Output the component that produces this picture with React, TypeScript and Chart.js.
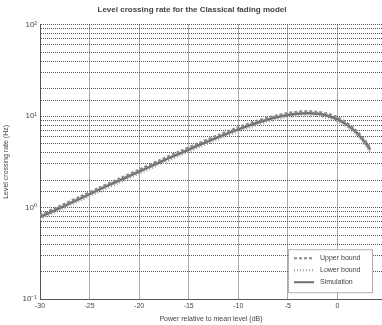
import React, { useEffect, useRef } from "react";
import { Chart, registerables } from "chart.js";

Chart.register(...registerables);

const titleText = "Level crossing rate for the Classical fading model";
const xAxisTitle = "Power relative to mean level (dB)";
const yAxisTitle = "Level crossing rate (Hz)";

const powerDb = [-30, -28, -26, -24, -22, -20, -18, -16, -14, -12, -10, -9, -8, -7, -6, -5, -4, -3, -2, -1, 0, 1, 2, 3, 3.3];
const upperBound = [0.83, 1.04, 1.31, 1.65, 2.07, 2.6, 3.26, 4.06, 5.04, 6.2, 7.52, 8.22, 8.93, 9.62, 10.24, 10.77, 11.13, 11.27, 11.1, 10.58, 9.66, 8.37, 6.78, 5.05, 4.51];
const lowerBound = [0.75, 0.94, 1.19, 1.5, 1.88, 2.36, 2.95, 3.68, 4.57, 5.62, 6.82, 7.45, 8.1, 8.72, 9.29, 9.76, 10.09, 10.22, 10.07, 9.6, 8.77, 7.59, 6.15, 4.58, 4.09];
const simulation = [0.79, 0.99, 1.25, 1.58, 1.98, 2.48, 3.11, 3.87, 4.81, 5.91, 7.17, 7.84, 8.52, 9.17, 9.77, 10.27, 10.62, 10.75, 10.59, 10.1, 9.22, 7.98, 6.47, 4.82, 4.3];

const xTicks = [-30, -25, -20, -15, -10, -5, 0];
const yDecadeLabels: Record<string, string> = { "0.1": "10⁻¹", "1": "10⁰", "10": "10¹", "100": "10²" };

const seriesNames = ["Upper bound", "Lower bound", "Simulation"];
const seriesColors = ["#8a8a8a", "#9a9a9a", "#707070"];
const seriesDash = [[3, 2], [1, 2], []];

const FONT = "'Liberation Sans', Arial, sans-serif";

const legendPlugin = {
  id: "insideLegend",
  afterDraw(chart: any) {
    const { ctx, chartArea } = chart;
    const w = 84;
    const h = 43;
    const x = chartArea.right - w - 10;
    const y = chartArea.bottom - h - 7;
    ctx.save();
    ctx.fillStyle = "#ffffff";
    ctx.fillRect(x, y, w, h);
    ctx.strokeStyle = "#666";
    ctx.lineWidth = 1;
    ctx.setLineDash([1, 1]);
    ctx.strokeRect(x + 0.5, y + 0.5, w, h);
    ctx.font = `7px ${FONT}`;
    ctx.textBaseline = "middle";
    seriesNames.forEach((name, i) => {
      const ry = y + 9 + i * 12;
      ctx.strokeStyle = seriesColors[i];
      ctx.lineWidth = 2;
      ctx.setLineDash(seriesDash[i]);
      ctx.beginPath();
      ctx.moveTo(x + 6, ry);
      ctx.lineTo(x + 26, ry);
      ctx.stroke();
      ctx.setLineDash([]);
      ctx.fillStyle = "#444";
      ctx.fillText(name, x + 32, ry);
    });
    ctx.restore();
  },
};

export default function App() {
  const ref = useRef<HTMLCanvasElement>(null);

  useEffect(() => {
    if (!ref.current) return;
    const series = [upperBound, lowerBound, simulation];
    const chart = new Chart(ref.current, {
      type: "line",
      data: {
        datasets: series.map((vals, i) => ({
          label: seriesNames[i],
          data: powerDb.map((x, j) => ({ x, y: vals[j] })),
          borderColor: seriesColors[i],
          borderWidth: 2.5,
          borderDash: seriesDash[i],
          pointRadius: 0,
          tension: 0.3,
          fill: false,
        })),
      },
      options: {
        responsive: false,
        animation: false,
        layout: { padding: { left: 2, right: 0, top: 0, bottom: 2 } },
        plugins: {
          legend: { display: false },
          tooltip: { enabled: false },
          title: {
            display: true,
            text: titleText,
            color: "#444",
            font: { family: FONT, size: 8, weight: "bold" },
            padding: { top: 5, bottom: 10 },
          },
        },
        scales: {
          x: {
            type: "linear",
            min: -30,
            max: 4.5,
            afterBuildTicks: (scale: any) => {
              scale.ticks = xTicks.map((v) => ({ value: v }));
            },
            ticks: {
              color: "#444",
              font: { family: FONT, size: 7 },
              padding: 3,
              maxRotation: 0,
              autoSkip: false,
            },
            grid: { color: "#555", lineWidth: 1, drawTicks: false },
            border: { color: "#555", dash: [1, 1] },
            title: {
              display: true,
              text: xAxisTitle,
              color: "#444",
              font: { family: FONT, size: 7 },
              padding: { top: 1, bottom: 0 },
            },
          },
          y: {
            type: "logarithmic",
            min: 0.1,
            max: 100,
            afterFit: (scale: any) => {
              scale.width = 38;
            },
            ticks: {
              color: "#444",
              font: { family: FONT, size: 8 },
              padding: 3,
              autoSkip: false,
              callback: (v: any) => yDecadeLabels[String(Number(v))] ?? "",
            },
            grid: { color: "#555", lineWidth: 1, drawTicks: false },
            border: { color: "#555", dash: [1, 1] },
            title: {
              display: true,
              text: yAxisTitle,
              color: "#444",
              font: { family: FONT, size: 7 },
              padding: { top: 0, bottom: 2 },
            },
          },
        },
      },
      plugins: [legendPlugin],
    });
    return () => chart.destroy();
  }, []);

  return (
    <div style={{ position: "fixed", left: 0, top: 0, width: 382, height: 325, background: "#fff" }}>
      <canvas ref={ref} width={382} height={325} style={{ display: "block" }} />
    </div>
  );
}
